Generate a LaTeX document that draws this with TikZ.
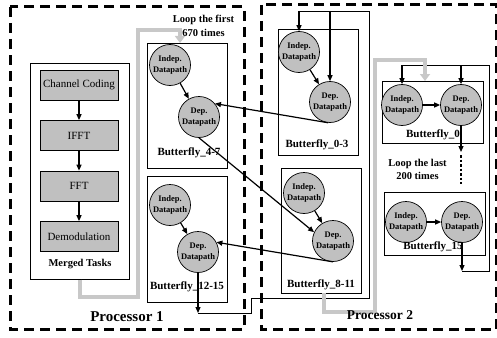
\documentclass[tikz,border=0pt]{standalone}
\usepackage{fontspec}
\setmainfont{Liberation Serif}
\usetikzlibrary{arrows.meta}
\definecolor{boxgray}{RGB}{192,192,192}
\definecolor{loopgray}{RGB}{200,200,200}
\begin{document}
\begin{tikzpicture}[x=1pt,y=-1pt,
  proc/.style={draw, line width=3pt, dash pattern=on 10pt off 6pt},
  cont/.style={draw, line width=0.7pt, inner sep=0pt, anchor=north west},
  task/.style={draw, line width=0.7pt, fill=boxgray, minimum width=78pt, minimum height=30pt, inner sep=0pt, font=\fontsize{11}{12}\selectfont},
  dp/.style={circle, draw, line width=0.7pt, fill=boxgray, minimum size=41pt, inner sep=0pt, align=center, font=\bfseries\fontsize{8.5}{10.5}\selectfont},
  lbl/.style={font=\bfseries\fontsize{11}{12}\selectfont, inner sep=0pt},
  looptxt/.style={font=\bfseries\fontsize{10.5}{13.5}\selectfont, align=center, inner sep=0pt},
  arr/.style={line width=1.2pt, -{Triangle[length=6pt,width=5pt]}},
  wire/.style={line width=0.8pt},
  loopar/.style={draw=loopgray, line width=4pt, -{Triangle[length=7pt,width=10pt]}},
]
\useasboundingbox (0,0) rectangle (497,337);

% processors
\draw[proc] (10,7) rectangle (244,329);
\draw[proc] (261,5) rectangle (496.5,329);

% merged tasks
\node[cont, minimum width=99pt, minimum height=216pt] (mt) at (30,63) {};
\node[task] (cc) at (79,85) {Channel Coding};
\node[task] (ifft) at (79,135.5) {IFFT};
\node[task] (fft) at (79,186) {FFT};
\node[task] (dem) at (79,236.5) {Demodulation};
\node[lbl, font=\bfseries\fontsize{10.5}{12}\selectfont] (mtl) at (80,264) {Merged Tasks};
\draw[arr] (cc) -- (ifft);
\draw[arr] (ifft) -- (fft);
\draw[arr] (fft) -- (dem);

% Butterfly 4-7
\node[cont, minimum width=80pt, minimum height=125pt] (b47) at (147,43) {};
\node[dp] (i47) at (170,65) {Indep.\\Datapath};
\node[dp] (d47) at (199,117) {Dep.\\Datapath};
\node[lbl] (l47) at (189,153) {Butterfly\_4-7};
\draw[arr] (i47) -- (d47);

% Butterfly 12-15
\node[cont, minimum width=80pt, minimum height=126pt] (b1215) at (147,176) {};
\node[dp] (i1215) at (170,205) {Indep.\\Datapath};
\node[dp] (d1215) at (198,252) {Dep.\\Datapath};
\node[lbl] (l1215) at (187,287) {Butterfly\_12-15};
\draw[arr] (i1215) -- (d1215);

% Butterfly 0-3
\node[cont, minimum width=80pt, minimum height=126pt] (b03) at (278,29) {};
\node[dp] (i03) at (299,52) {Indep.\\Datapath};
\node[dp] (d03) at (330,102) {Dep.\\Datapath};
\node[lbl] (l03) at (317,145) {Butterfly\_0-3};
\draw[arr] (i03) -- (d03);

% Butterfly 8-11
\node[cont, minimum width=80pt, minimum height=125pt] (b811) at (281,168) {};
\node[dp] (i811) at (304,193) {Indep.\\Datapath};
\node[dp] (d811) at (333,241) {Dep.\\Datapath};
\node[lbl] (l811) at (321,285) {Butterfly\_8-11};
\draw[arr] (i811) -- (d811);

% Butterfly 0
\node[cont, minimum width=101pt, minimum height=62pt] (b0) at (382,81) {};
\node[dp] (i0) at (402,105) {Indep.\\Datapath};
\node[dp] (d0) at (461,105) {Dep.\\Datapath};
\node[lbl] (l0) at (433,135) {Butterfly\_0};
\draw[arr] (i0) -- (d0);

% Butterfly 15
\node[cont, minimum width=101pt, minimum height=63pt] (b15) at (384,192) {};
\node[dp] (i15) at (406,222) {Indep.\\Datapath};
\node[dp] (d15) at (462,222) {Dep.\\Datapath};
\node[lbl] (l15) at (433,247) {Butterfly\_15};
\draw[arr] (i15) -- (d15);

% cross connections
\draw[arr] (d03.265) -- (d47.40);
\draw[arr] (d47.south) -- (d811.155);
\draw[arr] (d811.south) -- (d1215.28);

% feedback from butterfly 12-15 to butterfly 0-3
\coordinate (f1) at (198,313);
\coordinate (t1) at (299,11);
\coordinate (t2) at (330,11);
\draw[arr] (d1215.south) -- (f1);
\draw[wire] (f1) -- (251,313) -- (251,298) -- (369,298) -- (369,11) -- (t1);
\draw[arr] (t1) -- (i03.north);
\draw[arr] (t2) -- (d03.north);

% butterfly 0 output and dotted continuation
\coordinate (o0) at (461,152);
\draw[arr] (d0.south) -- (o0);
\draw[line width=2.5pt, dash pattern=on 2.5pt off 2pt] (461,155) -- (461,184);

% feedback from butterfly 15 to butterfly 0
\coordinate (o15) at (462,271);
\coordinate (u1) at (402,65);
\coordinate (u2) at (461,65);
\draw[arr] (d15.south) -- (o15);
\draw[wire] (o15) -- (489,271) -- (489,65) -- (u1);
\draw[arr] (u1) -- (i0.north);
\draw[arr] (u2) -- (d0.north);

% gray loops
\coordinate (g1) at (180,43);
\draw[loopar] (mt.south) -- ++(0,17) -| (138,30) -| (g1);
\coordinate (g2s) at (324,293);
\coordinate (g2) at (425,81);
\draw[loopar] (g2s) -- (324,312) -| (375,60) -| (g2);

% texts
\node[looptxt] (lf) at (203.5,26) {Loop the first\\670 times};
\node[looptxt] (ll) at (417.5,169.5) {Loop the last\\200 times};
\node[font=\bfseries\fontsize{15}{18}\selectfont, inner sep=0pt] (p1) at (127,317) {Processor 1};
\node[font=\bfseries\fontsize{13.5}{16}\selectfont, inner sep=0pt] (p2) at (380,315) {Processor 2};
\end{tikzpicture}
\end{document}
